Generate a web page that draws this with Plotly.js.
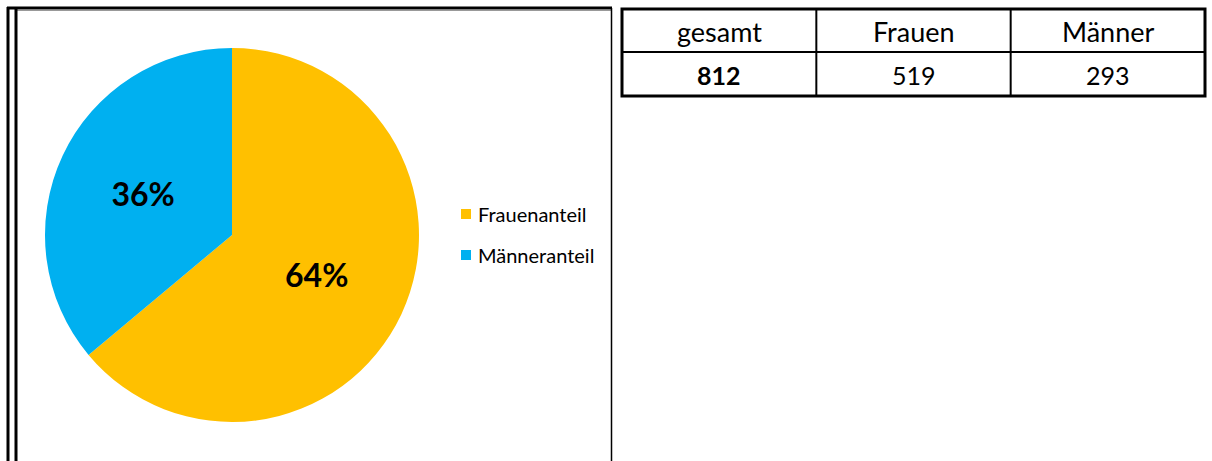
<!DOCTYPE html>
<html>
<head>
<meta charset="utf-8">
<script src="https://cdn.plot.ly/plotly-3.0.1.min.js"></script>
<style>
html,body{margin:0;padding:0;background:#fff;}
#chart{width:1212px;height:461px;}
</style>
</head>
<body>
<div id="chart"></div>
<script>
// ---- data ----
const categories = ["Frauenanteil", "Männeranteil"];
const values = [519, 293];
const colors = ["#FFC000", "#00B0F0"];
const tableHeaders = ["gesamt", "Frauen", "Männer"];
const tableValues = [812, 519, 293];

const W = 1212, H = 461;
const FONT = "Lato, 'Open Sans', sans-serif";

const pie = {
  type: "pie",
  labels: categories,
  values: values,
  sort: false,
  direction: "clockwise",
  rotation: 0,
  marker: {colors: colors, line: {width: 0}},
  texttemplate: "<b>%{percent:.0%}</b>",
  textposition: "inside",
  insidetextorientation: "horizontal",
  textfont: {family: FONT, size: 32, color: "#000"},
  hoverinfo: "none",
  showlegend: false,
  domain: {x: [45 / W, 419 / W], y: [(H - 422) / H, (H - 48) / H]}
};

const shapes = [];
const annotations = [];
function line(x0, y0, x1, y1, w, c) {
  shapes.push({type: "line", xref: "x", yref: "y", x0, y0, x1, y1, line: {color: c || "#000", width: w}});
}
// outer frame of the chart area
line(7, 8, 612, 8, 3);
line(17, 10.5, 611, 10.5, 1.2, "#999");
line(8, 7, 8, 461, 3);
line(16, 7, 16, 461, 3);
line(611.5, 8, 611.5, 461, 1.5);

// table
const tX0 = 622, tX1 = 1205, tY0 = 9, tYm = 52, tY1 = 96;
const colW = (tX1 - tX0) / tableHeaders.length;
for (let i = 1; i < tableHeaders.length; i++) {
  line(tX0 + i * colW, tY0, tX0 + i * colW, tY1, 2);
}
line(tX0, tYm, tX1, tYm, 2);
shapes.push({type: "rect", xref: "x", yref: "y", x0: tX0, y0: tY0, x1: tX1, y1: tY1, line: {color: "#000", width: 3}});

tableHeaders.forEach((h, i) => {
  annotations.push({xref: "x", yref: "y", x: tX0 + (i + 0.5) * colW, y: (tY0 + tYm) / 2 + 1, text: h,
    showarrow: false, font: {family: FONT, size: 27, color: "#000"}, xanchor: "center", yanchor: "middle"});
});
tableValues.forEach((v, i) => {
  annotations.push({xref: "x", yref: "y", x: tX0 + (i + 0.5) * colW, y: (tYm + tY1) / 2 + 1,
    text: i === 0 ? "<b>" + v + "</b>" : String(v),
    showarrow: false, font: {family: FONT, size: 25, color: "#000"}, xanchor: "center", yanchor: "middle"});
});

// legend
const legY = [214, 255];
categories.forEach((c, i) => {
  shapes.push({type: "rect", xref: "x", yref: "y", x0: 461, x1: 471, y0: legY[i] - 5, y1: legY[i] + 5,
    fillcolor: colors[i], line: {width: 0}});
  annotations.push({xref: "x", yref: "y", x: 476, y: legY[i], text: c, showarrow: false,
    font: {family: FONT, size: 20, color: "#000"}, xanchor: "left", yanchor: "middle"});
});

const layout = {
  width: W, height: H,
  margin: {l: 0, r: 0, t: 0, b: 0},
  paper_bgcolor: "#fff", plot_bgcolor: "rgba(0,0,0,0)",
  xaxis: {range: [0, W], visible: false, fixedrange: true, domain: [0, 1]},
  yaxis: {range: [H, 0], visible: false, fixedrange: true, domain: [0, 1]},
  showlegend: false,
  shapes: shapes,
  annotations: annotations
};

Plotly.newPlot("chart", [pie], layout, {displayModeBar: false, staticPlot: true});
</script>
</body>
</html>
